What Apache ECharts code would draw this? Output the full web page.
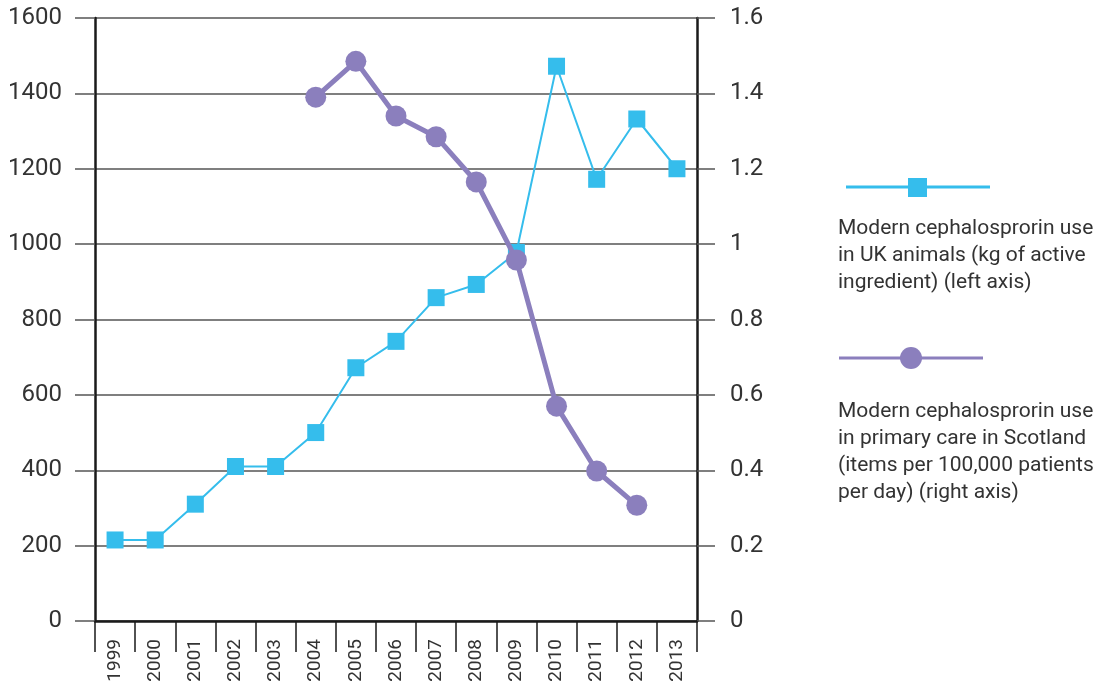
<!DOCTYPE html>
<html><head><meta charset="utf-8">
<script src="https://cdn.jsdelivr.net/npm/echarts@6/dist/echarts.min.js"></script>
<style>html,body{margin:0;padding:0;background:#fff}#c{width:1098px;height:688px}</style>
</head><body><div id="c"></div>
<script>
var years = ['1999','2000','2001','2002','2003','2004','2005','2006','2007','2008','2009','2010','2011','2012','2013'];
var animalUse = [215, 215, 310, 410, 410, 500, 672, 742, 858, 893, 978, 1472, 1172, 1332, 1200];
var primaryCare = [null, null, null, null, null, 1.39, 1.485, 1.34, 1.285, 1.165, 0.958, 0.57, 0.398, 0.307, null];
var legendAnimal = 'Modern cephalosprorin use\nin UK animals (kg of active\ningredient) (left axis)';
var legendCare = 'Modern cephalosprorin use\nin primary care in Scotland\n(items per 100,000 patients\nper day) (right axis)';

var FONT = 'Roboto';
var BLUE = '#35bdec', PURPLE = '#8b7fbd';
var chart = echarts.init(document.getElementById('c'));
chart.setOption({
  animation: false,
  textStyle: {fontFamily: FONT},
  grid: {left: 95, right: 401, top: 18, bottom: 67},
  xAxis: {
    type: 'category', data: years, boundaryGap: true,
    axisLine: {lineStyle: {color: '#1a1a1a', width: 2.5}},
    axisTick: {show: true, length: 31, interval: 0, lineStyle: {color: '#1a1a1a', width: 1.5}},
    axisLabel: {rotate: 90, interval: 0, margin: 18, fontSize: 19, color: '#333', fontFamily: FONT}
  },
  yAxis: [{
    type: 'value', min: 0, max: 1600, interval: 200, position: 'left',
    axisLine: {show: true, lineStyle: {color: '#1a1a1a', width: 2.5}},
    axisTick: {show: true, length: 20, lineStyle: {color: '#555', width: 1.5}},
    splitLine: {lineStyle: {color: '#555', width: 1.5}},
    axisLabel: {margin: 33, fontSize: 24, color: '#333', fontFamily: FONT,
      formatter: function (v) { return String(v); }}
  }, {
    type: 'value', min: 0, max: 1.6, interval: 0.2, position: 'right',
    axisLine: {show: true, lineStyle: {color: '#1a1a1a', width: 2.5}},
    axisTick: {show: true, length: 18, lineStyle: {color: '#555', width: 1.5}},
    splitLine: {show: false},
    axisLabel: {margin: 33, fontSize: 24, color: '#333', fontFamily: FONT,
      formatter: function (v) { return String(Math.round(v * 10) / 10); }}
  }],
  series: [{
    type: 'line', yAxisIndex: 0, data: animalUse,
    symbol: 'rect', symbolSize: 17,
    lineStyle: {color: BLUE, width: 2}, itemStyle: {color: BLUE}, z: 3
  }, {
    type: 'line', yAxisIndex: 1, data: primaryCare,
    symbol: 'circle', symbolSize: 21, connectNulls: false,
    lineStyle: {color: PURPLE, width: 5}, itemStyle: {color: PURPLE}, z: 4
  }],
  graphic: [
    {type: 'line', shape: {x1: 846, y1: 187, x2: 990, y2: 187}, style: {stroke: BLUE, lineWidth: 3}},
    {type: 'rect', shape: {x: 908, y: 178, width: 19, height: 19}, style: {fill: BLUE}},
    {type: 'text', left: 838, top: 215, style: {text: legendAnimal, font: '21px ' + FONT, fill: '#333', lineHeight: 27}},
    {type: 'line', shape: {x1: 839, y1: 358, x2: 983, y2: 358}, style: {stroke: PURPLE, lineWidth: 3}},
    {type: 'circle', shape: {cx: 911, cy: 358, r: 11}, style: {fill: PURPLE}},
    {type: 'text', left: 838, top: 398, style: {text: legendCare, font: '21px ' + FONT, fill: '#333', lineHeight: 27}}
  ]
});
</script></body></html>
